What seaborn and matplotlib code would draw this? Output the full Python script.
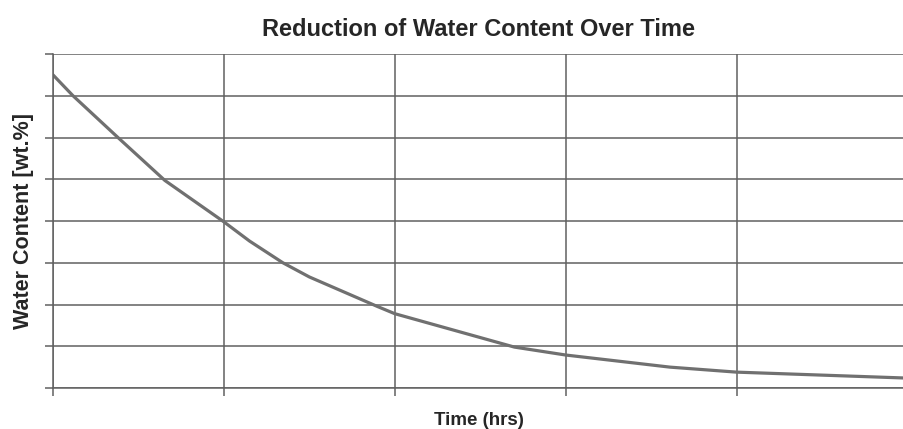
import matplotlib
matplotlib.use('Agg')
import matplotlib.pyplot as plt
import seaborn as sns
import pandas as pd

# values (x in grid units, y in wt.%)
time_hrs = [0.0, 0.117, 0.38, 0.655, 1.0, 1.15, 1.345, 1.5, 1.9, 2.0, 2.7, 3.0, 3.61, 4.0, 4.98]
water_content = [7.5, 7.0, 6.0, 4.97, 3.98, 3.52, 3.0, 2.66, 1.95, 1.78, 0.98, 0.79, 0.50, 0.38, 0.24]
x_grid = [0, 1, 2, 3, 4]
y_grid = [0, 1, 2, 3, 4, 5, 6, 7, 8]

df = pd.DataFrame({'time': time_hrs, 'water': water_content})

sns.set_style('white')
plt.rcParams['font.family'] = ['Liberation Sans', 'DejaVu Sans']

fig = plt.figure(figsize=(9.04, 4.29), dpi=100)
ax = fig.add_axes([53 / 904, 1 - 388 / 429, 1 - 53 / 904, (388 - 54) / 429])

sns.lineplot(data=df, x='time', y='water', ax=ax, color='#707070', linewidth=2.3)

ax.set_xlim(0, 4.98)
ax.set_ylim(0, 8)
ax.set_xticks(x_grid)
ax.set_yticks(y_grid)
ax.set_xticklabels([])
ax.set_yticklabels([])
ax.grid(True, color='#606060', linewidth=1.1)
ax.tick_params(axis='both', direction='out', length=6, width=1.1, color='#606060',
               bottom=True, left=True)
for side in ['top', 'right']:
    ax.spines[side].set_visible(False)
for side in ['left', 'bottom']:
    ax.spines[side].set_color('#606060')
    ax.spines[side].set_linewidth(1.1)

ax.set_title('Reduction of Water Content Over Time', fontsize=17, fontweight='bold', pad=13)
ax.set_xlabel('Time (hrs)', fontsize=13.5, fontweight='bold', labelpad=8)
ax.set_ylabel('Water Content [wt.%]', fontsize=15.5, fontweight='bold', labelpad=4)

fig.savefig('out.png', dpi=100)
